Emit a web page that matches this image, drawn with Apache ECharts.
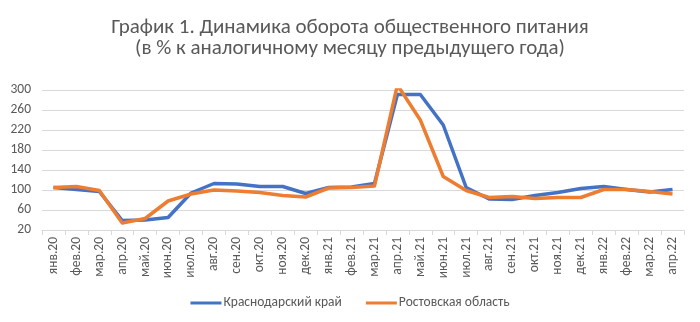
<!DOCTYPE html>
<html>
<head>
<meta charset="utf-8">
<script src="https://cdn.jsdelivr.net/npm/echarts@6/dist/echarts.min.js"></script>
<style>
  html, body { margin: 0; padding: 0; background: #fff; }
  #chart { width: 700px; height: 322px; }
</style>
</head>
<body>
<div id="chart"></div>
<script>
// Monthly categories, Jan 2020 – Apr 2022
const months = [
  'янв.20','фев.20','мар.20','апр.20','май.20','июн.20','июл.20','авг.20','сен.20','окт.20','ноя.20','дек.20',
  'янв.21','фев.21','мар.21','апр.21','май.21','июн.21','июл.21','авг.21','сен.21','окт.21','ноя.21','дек.21',
  'янв.22','фев.22','мар.22','апр.22'
];

// Catering turnover, % of the same month of the previous year
const krasnodar = [
  105, 101, 97, 39, 40, 45, 94, 113, 112, 107, 107, 93,
  105, 106, 113, 291, 291, 230, 105, 82, 81, 89, 95, 103,
  107, 101, 96, 101
];
const rostov = [
  105, 107, 99, 34, 43, 78, 92, 100, 98, 95, 89, 86,
  104, 105, 108, 310, 240, 127, 99, 85, 87, 83, 85, 85,
  101, 101, 97, 92
];

const seriesNames = ['Краснодарский край', 'Ростовская область'];
const titleLines = ['График 1. Динамика оборота общественного питания', '(в % к аналогичному месяцу предыдущего года)'];

const textColor = '#595959';
const font = 'Calibri, Carlito, "Open Sans", sans-serif';

const chart = echarts.init(document.getElementById('chart'), null, { renderer: 'canvas' });
chart.setOption({
  backgroundColor: '#ffffff',
  animation: false,
  title: {
    text: titleLines.join('\n'),
    left: 'center',
    top: 17,
    padding: 0,
    textStyle: {
      color: textColor,
      fontFamily: font,
      fontWeight: 'normal',
      fontSize: 21,
      lineHeight: 21
    }
  },
  legend: {
    bottom: 12,
    left: 'center',
    padding: 0,
    itemWidth: 31,
    itemHeight: 3,
    itemGap: 24,
    icon: 'rect',
    textStyle: { color: textColor, fontFamily: font, fontSize: 13.5, padding: [0, 0, 0, -3] },
    data: seriesNames
  },
  grid: { left: 42, right: 16, top: 90, bottom: 92, containLabel: false },
  xAxis: {
    type: 'category',
    data: months,
    boundaryGap: true,
    axisLine: { lineStyle: { color: '#d9d9d9', width: 1 } },
    axisTick: { show: true, length: 5, lineStyle: { color: '#d9d9d9' } },
    axisLabel: {
      rotate: 90,
      interval: 0,
      color: textColor,
      fontFamily: font,
      fontSize: 13.5,
      margin: 7
    }
  },
  yAxis: {
    type: 'value',
    min: 20,
    max: 300,
    interval: 40,
    axisLine: { show: false },
    axisTick: { show: false },
    splitLine: { lineStyle: { color: '#d9d9d9', width: 1 } },
    axisLabel: { color: textColor, fontFamily: font, fontSize: 13.5, margin: 11 }
  },
  series: [
    {
      name: seriesNames[0],
      type: 'line',
      data: krasnodar,
      symbol: 'none',
      lineStyle: { color: '#4472C4', width: 3.5, join: 'round' },
      itemStyle: { color: '#4472C4' }
    },
    {
      name: seriesNames[1],
      type: 'line',
      data: rostov,
      symbol: 'none',
      lineStyle: { color: '#ED7D31', width: 3.5, join: 'round' },
      itemStyle: { color: '#ED7D31' }
    }
  ]
});
</script>
</body>
</html>
